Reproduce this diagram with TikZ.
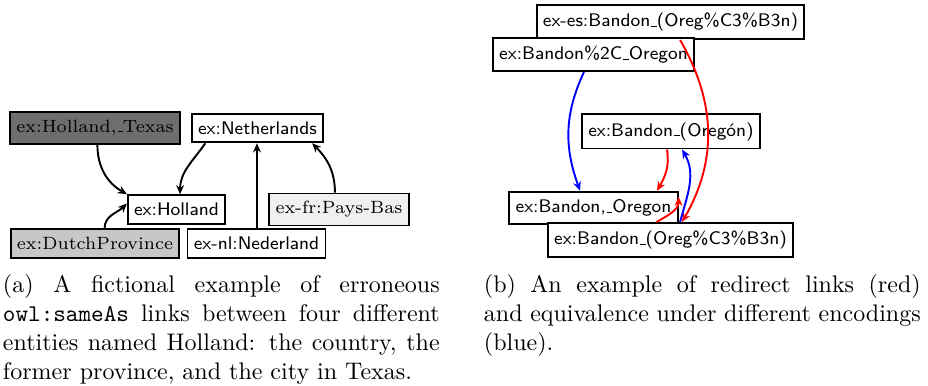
\documentclass[tikz,border=0pt]{standalone}
\usetikzlibrary{arrows.meta}

% short underscore, as in the old text encoding
\newcommand{\usc}{\leavevmode\kern.06em\vbox{\hrule width.3em}}

\begin{document}
\begin{tikzpicture}[  > = {Stealth[length=3.8pt,width=3.3pt]},  x = 0.4167pt,  y = 0.4167pt,  thick,
  ent/.style = {draw, fill=white, inner xsep=2.6pt, inner ysep=3.3pt, font=\fontsize{7.6}{9}\selectfont\sffamily},
  entrm/.style = {draw, inner xsep=2.6pt, inner ysep=3.3pt, minimum width=69pt, font=\fontsize{7.4}{9}\selectfont\rmfamily},
  capt/.style = {anchor=north west, inner sep=0pt, text width=182pt, align=justify}]
  \useasboundingbox (0,0) rectangle (928,385);

  % Define nodes (a)
  \node[entrm, fill=black!57] (texas) at (95,257) {ex:Holland,\usc Texas};
  \node[ent] (neth) at (257.5,257) {ex:Netherlands};
  \node[ent] (holland) at (176.5,175.5) {ex:Holland};
  \node[entrm, fill=black!6, minimum width=0pt] (paysbas) at (339,175.5) {ex-fr:Pays-Bas};
  \node[entrm, fill=black!22] (dutch) at (95,141.5) {ex:DutchProvince};
  \node[ent] (neder) at (256.5,141.5) {ex-nl:Nederland};

  % Draw arrows (a)
  \draw[->] ([xshift=1pt]texas.south) to[out=-90, in=150] (holland.north west);
  \draw[->] ([xshift=4pt]dutch.north) to[out=90, in=225] ([yshift=2.5pt]holland.west);
  \draw[->] ([xshift=6pt]neth.south west) to[out=235, in=90] ([xshift=1.5pt]holland.north);
  \draw[->] ([xshift=0.2pt]neder.north) -- ([xshift=0.2pt]neder.north |- neth.south);
  \draw[->] ([xshift=-1.7pt]paysbas.north) to[out=90, in=-45] ([xshift=-5pt]neth.south east);

  % Define nodes (b)
  \node[ent] (es) at (670.5,363) {ex-es:Bandon\usc(Oreg\%C3\%B3n)};
  \node[ent] (pc) at (593.5,330.5) {ex:Bandon\%2C\usc Oregon};
  \node[ent] (oregon) at (671,253.5) {ex:Bandon\usc(Oregón)};
  \node[ent] (comma) at (593.5,177) {ex:Bandon,\usc Oregon};
  \node[ent] (enc) at (670.5,145) {ex:Bandon\usc(Oreg\%C3\%B3n)};

  % Draw arrows (b)
  \draw[->, blue] ([xshift=-4pt]pc.south) to[out=-115, in=110] ([xshift=-5.6pt]comma.north);
  \draw[->, red] ([xshift=4pt]es.south) to[out=-60, in=60] ([xshift=4.8pt]enc.north);
  \draw[->, red] ([xshift=-1.7pt]oregon.south) to[out=-80, in=60] ([xshift=-9pt]comma.north east);
  \draw[->, blue] ([xshift=4pt]enc.north) to[out=75, in=-60] ([xshift=4.6pt]oregon.south);
  \draw[->, red] ([xshift=-5.8pt]enc.north) to[out=30, in=-90] ([yshift=-2.5pt]comma.north east);

  % Captions
  \node[capt] (capa) at (2,111) {(a) A fictional example of erroneous \texttt{owl:sameAs} links between four different entities named Holland: the country, the former province, and the city in Texas.};
  \node[capt] (capb) at (483,111) {(b) An example of redirect links (red) and equivalence under different encodings (blue).};
\end{tikzpicture}
\end{document}
